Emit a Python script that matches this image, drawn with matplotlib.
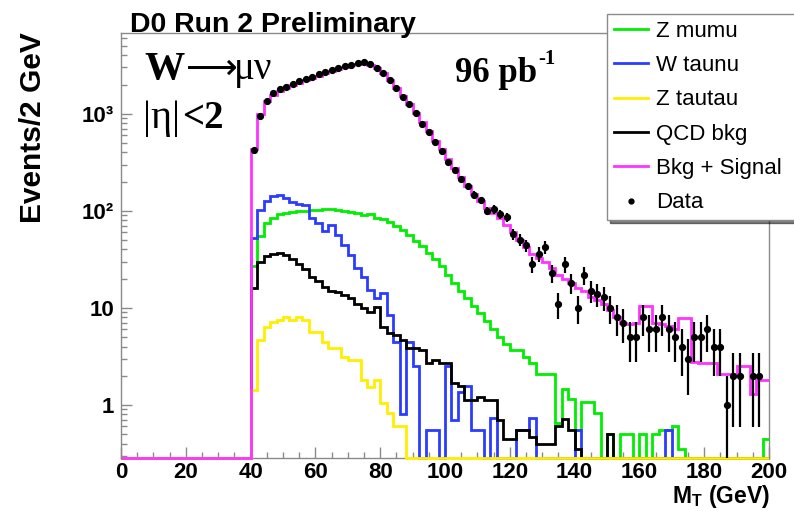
import numpy as np
import matplotlib
matplotlib.use('Agg')
import matplotlib.pyplot as plt
from matplotlib.lines import Line2D
from matplotlib.ticker import LogLocator, NullFormatter, MultipleLocator

plt.rcParams['font.family'] = ['Liberation Sans', 'DejaVu Sans']
plt.rcParams['mathtext.fontset'] = 'custom'
plt.rcParams['mathtext.rm'] = 'Liberation Sans:bold'
plt.rcParams['mathtext.it'] = 'Liberation Sans:bold'
plt.rcParams['mathtext.bf'] = 'Liberation Sans:bold'

# 2 GeV bins, filled from 40 to 200 GeV (bins below 40 are empty)
first_bin = 40
bin_width = 2

z_mumu = [27, 55, 75, 85, 92, 95, 97, 99, 100, 102,
          103, 104, 104, 103, 100, 97, 95, 90, 93, 85,
          82, 76, 70, 63, 56, 49, 43, 37, 32, 27,
          22, 18, 15, 12.5, 10.5, 8.8, 7.3, 6, 5.0, 4.2,
          3.7, 3.7, 3.1, 2.7, 2.1, 2.1, 2.1, 0.65, 1.45, 1.15,
          0.55, 1.07, 1.07, 0.83, 0, 0.5, 0, 0.5, 0.5, 0,
          0.5, 0, 0.5, 0.55, 0.55, 0.6, 0.35, 0, 0, 0,
          0, 0, 0, 0, 0, 0, 0, 0, 0, 0.45]

w_taunu = [52, 102, 125, 142, 146, 135, 124, 118, 115, 84,
           75, 62, 71, 57, 44, 35, 26, 21, 15.3, 12.7,
           14.3, 8.5, 4.4, 0.8, 4.4, 2.5, 0, 0.55, 0.55, 0,
           2.5, 0.7, 1.35, 1.55, 0.55, 0.55, 0, 0.73, 0, 0,
           0, 0.55, 0.55, 0.73, 0, 0, 0, 0, 0, 0,
           0.55, 0, 0, 0, 0, 0, 0, 0, 0, 0,
           0, 0, 0, 0, 0.55, 0, 0, 0, 0, 0,
           0, 0, 0, 0, 0, 0, 0, 0, 0, 0]

z_tautau = [1.43, 4.7, 6.4, 7.2, 7.5, 8.1, 7.5, 8.1, 7.5, 5.7,
            5.7, 4.4, 3.9, 3.9, 3.15, 2.9, 2.9, 1.81, 1.54, 1.8,
            1.05, 0.83, 0.6, 0.6, 0, 0, 0, 0, 0, 0] + [0] * 50

qcd_bkg = [16, 30, 34, 36, 37, 35, 32, 28, 25, 21,
           19, 16.5, 15, 14.5, 13.5, 12.5, 11, 10, 9, 10.3,
           6.4, 5.5, 5.2, 4.7, 3.9, 3.9, 3.7, 2.7, 2.9, 2.7,
           2.7, 1.7, 1.55, 1.13, 1.13, 1.22, 1.13, 1.13, 0.7, 0.45,
           0.45, 0.55, 0.55, 0.47, 0.4, 0.4, 0.4, 0.6, 0.72, 0.55,
           0.35, 0, 0, 0, 0, 0.5] + [0] * 24

bkg_signal = [430, 1000, 1350, 1550, 1720, 1850, 1980, 2100, 2220, 2350,
              2480, 2620, 2760, 2900, 3020, 3150, 3280, 3320, 3200, 2980,
              2650, 2250, 1850, 1520, 1250, 1020, 820, 660, 530, 430,
              340, 275, 222, 182, 150, 125, 108, 96, 85, 72,
              60, 50, 42, 36, 33, 30, 26, 22, 20, 18,
              16, 15, 13, 12, 11, 9.5, 8, 7, 6.8, 7,
              10.5, 10.5, 7, 6.8, 6.5, 6, 7.8, 7.8, 2.8, 2.7,
              2.7, 2.7, 2.1, 2.1, 2.1, 2.5, 2.5, 1.3, 1.8, 1.8]

data = [420, 940, 1350, 1620, 1800, 1900, 2050, 2200, 2300, 2420,
        2560, 2720, 2850, 2960, 3080, 3200, 3330, 3380, 3230, 2990,
        2620, 2240, 1860, 1500, 1270, 1010, 790, 650, 510, 410,
        320, 265, 212, 180, 147, 128, 100, 104, 92, 86,
        58, 50, 44, 28, 36, 42, 23, 11, 28, 18,
        10, 22, 15, 14, 13, 10, 8, 7, 5, 5,
        8, 6, 6, 8, 6, 5, 4, 3, 5, 5,
        6, 4, 4, 1, 2, 2, 0, 2, 2, 0]

W, H = 794, 511
ymin, ymax = 0.284, 6800

fig = plt.figure(figsize=(W / 100, H / 100), dpi=100)
ax = fig.add_axes([121 / W, 1 - 458 / H, 648 / W, 425 / H])

edges = np.arange(0, 200 + bin_width, bin_width)
n_empty = first_bin // bin_width


def full(vals):
    v = np.concatenate([np.zeros(n_empty), np.asarray(vals, float)])
    # empty bins sit on the bottom of the frame, as ROOT draws them
    return np.where(v > 0, v, ymin)


series = [(z_mumu, '#00ee00'), (w_taunu, '#2b3cff'), (qcd_bkg, 'black'),
          (z_tautau, '#ffee00'), (bkg_signal, '#ff33ff')]
for vals, col in series:
    ax.stairs(full(vals), edges, baseline=None, color=col, lw=2.0,
              zorder=3, clip_on=False)

d = np.asarray(data, float)
xc = first_bin + bin_width / 2 + bin_width * np.arange(len(d))
ok = d > 0
err = np.sqrt(d[ok])
lo = np.maximum(d[ok] - err, ymin)
ax.vlines(xc[ok], lo, d[ok] + err, color='black', lw=1.6, zorder=4)
ax.plot(xc[ok], d[ok], 'o', color='black', ms=4.2, zorder=5)

ax.set_yscale('log')
ax.set_xlim(0, 200)
ax.set_ylim(ymin, ymax)

ax.set_yticks([1, 10, 100, 1000])
ax.set_yticklabels(['1', '10', '10\u00b2', '10\u00b3'])
ax.yaxis.set_minor_locator(LogLocator(base=10, subs=np.arange(2, 10)))
ax.yaxis.set_minor_formatter(NullFormatter())
ax.set_xticks(np.arange(0, 201, 20))
ax.xaxis.set_minor_locator(MultipleLocator(5))

for s in ax.spines.values():
    s.set_color('#8a8a8a')
    s.set_linewidth(1.0)
ax.tick_params(which='both', direction='in', color='#8a8a8a',
               top=False, right=False)
ax.tick_params(which='major', length=8, width=1.0)
ax.tick_params(which='minor', length=4.5, width=1.0)
ax.tick_params(axis='x', labelsize=16, pad=3)
ax.tick_params(axis='y', labelsize=16, pad=5)
for lab in ax.get_xticklabels() + ax.get_yticklabels():
    lab.set_fontweight('bold')


def px(x, y):
    return x / W, 1 - y / H


fig.text(*px(130, 32), 'D0 Run 2 Preliminary', fontsize=20.5,
         fontweight='bold', va='baseline')
fig.text(*px(33, 128), 'Events/2 GeV', fontsize=21.5, fontweight='bold',
         rotation=90, ha='center', va='center')
fig.text(*px(770, 503), r'M$_{\rm T}$ (GeV)', fontsize=16.5,
         fontweight='bold', ha='right', va='baseline')

serif = ['Liberation Serif', 'DejaVu Serif']
fig.text(*px(144, 79), 'W', fontsize=29, fontweight='bold',
         family=serif, va='baseline')
fig.text(*px(186, 79), '\u27f6', fontsize=26,
         family=['DejaVu Sans'], va='baseline')
fig.text(*px(234, 79), '\u03bc\u03bd', fontsize=28,
         family=serif, va='baseline')
fig.text(*px(143, 128), '|\u03b7|', fontsize=29,
         family=serif, va='baseline')
fig.text(*px(182, 128), '<2', fontsize=28, fontweight='bold',
         family=serif, va='baseline')
fig.text(*px(455, 82), '96 pb', fontsize=25, fontweight='bold',
         family=serif, va='baseline')
fig.text(*px(538, 64), '-1', fontsize=15, fontweight='bold',
         family=serif, va='baseline')

handles = [Line2D([], [], color=c, lw=2.0) for _, c in series]
handles.append(Line2D([], [], ls='none', marker='o', ms=3.5, color='black'))
labels = ['Z mumu', 'W taunu', 'QCD bkg', 'Z tautau', 'Bkg + Signal', 'Data']
order = [0, 1, 3, 2, 4, 5]
leg = fig.legend([handles[i] for i in order], [labels[i] for i in order],
                 loc='upper left', mode='expand',
                 bbox_to_anchor=(607 / W, 1 - 218 / H, 205 / W, 204 / H),
                 bbox_transform=fig.transFigure, fontsize=16,
                 frameon=True, fancybox=False, framealpha=1,
                 edgecolor='#8a8a8a', handlelength=1.55, handletextpad=0.35,
                 labelspacing=0.6, borderpad=0.3, borderaxespad=0,
                 shadow={'color': 'black'})
leg.get_frame().set_linewidth(1.0)

fig.savefig('out.png', dpi=100)
